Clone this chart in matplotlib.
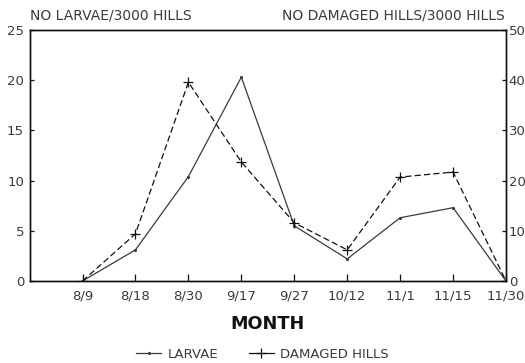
import matplotlib
matplotlib.use("Agg")
import matplotlib.pyplot as plt
from matplotlib.lines import Line2D

plt.rcParams['font.family'] = ['DejaVu Sans']

# Sampling dates and counts per 3000 hills
dates = ["8/9", "8/18", "8/30", "9/17", "9/27", "10/12", "11/1", "11/15", "11/30"]
larvae = [0, 3.1, 10.4, 20.3, 5.5, 2.2, 6.3, 7.3, 0]
damaged_hills = [0, 9.4, 39.6, 23.7, 11.6, 6.2, 20.7, 21.7, 0]

left_ticks = [0, 5, 10, 15, 20, 25]
right_ticks = [0, 10, 20, 30, 40, 50]

TXT = "#3a3a3a"
INK = "#111111"
FS = 9.5

fig = plt.figure(figsize=(5.25, 3.63), dpi=100)
ax = fig.add_axes([0.0564, 0.2259, 0.9074, 0.6915])
ax2 = ax.twinx()

x = list(range(1, len(dates) + 1))
ax.plot(x, larvae, color="#3a3a3a", lw=0.9, marker='.', ms=2.5)
ax2.plot(x, damaged_hills, color=INK, lw=0.9, ls=(0, (5, 2.5)),
         marker='+', ms=7, mew=0.9)

ax.set_xlim(0, len(dates))
ax.set_ylim(0, 25)
ax2.set_ylim(0, 50)
ax.set_xticks(x)
ax.set_xticklabels(dates)
ax.set_yticks(left_ticks)
ax2.set_yticks(right_ticks)

for a in (ax, ax2):
    for s in a.spines.values():
        s.set_linewidth(1.0)
        s.set_color(INK)
ax.tick_params(axis='x', direction='in', length=5, width=0.9, pad=6,
               labelsize=FS, colors=INK, labelcolor=TXT)
ax.tick_params(axis='y', direction='in', length=3, width=0.9, pad=4,
               labelsize=FS, colors=INK, labelcolor=TXT)
ax2.tick_params(axis='y', direction='in', length=3, width=0.9, pad=2,
                labelsize=FS, colors=INK, labelcolor=TXT)

ax.set_xlabel("MONTH", fontsize=12.7, fontweight='bold', labelpad=9, color=INK)

fig.text(0.057, 0.957, "NO LARVAE/3000 HILLS", fontsize=10, color=TXT,
         ha='left', va='center')
fig.text(0.962, 0.957, "NO DAMAGED HILLS/3000 HILLS", fontsize=10, color=TXT,
         ha='right', va='center')

handles = [
    Line2D([], [], color="#3a3a3a", lw=0.9, marker='.', ms=2.5),
    Line2D([], [], color=INK, lw=0.9, marker='+', ms=7, mew=0.9),
]
fig.legend(handles, ["LARVAE", "DAMAGED HILLS"], loc='center',
           bbox_to_anchor=(0.5, 1 - 354 / 363), ncol=2, frameon=False, fontsize=FS,
           handlelength=1.9, handletextpad=0.5, columnspacing=2.3,
           labelcolor=TXT, borderpad=0)

fig.savefig("out.png", dpi=100)
